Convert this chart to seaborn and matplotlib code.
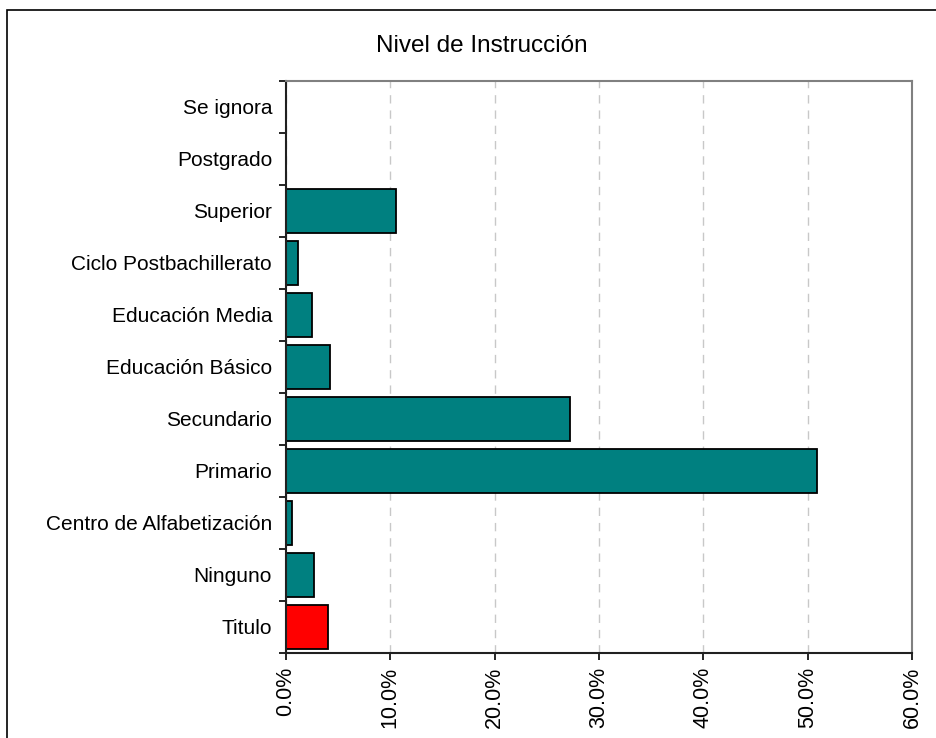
import numpy as np
import matplotlib
matplotlib.use("Agg")
import matplotlib.pyplot as plt
from matplotlib.patches import Rectangle
from matplotlib.ticker import PercentFormatter
import seaborn as sns

# === Datos ===
categorias = [
    "Se ignora", "Postgrado", "Superior", "Ciclo Postbachillerato",
    "Educación Media", "Educación Básico", "Secundario", "Primario",
    "Centro de Alfabetización", "Ninguno", "Titulo",
]
porcentajes = [0.0, 0.0, 10.57, 1.12, 2.46, 4.22, 27.2, 50.86, 0.6, 2.68, 4.06]
colores = ["#008080"] * 10 + ["#FF0000"]
ticks_x = [0, 10, 20, 30, 40, 50, 60]

sns.set_theme(style="white")
plt.rcParams["font.family"] = ["Liberation Sans", "DejaVu Sans"]
plt.rcParams["text.color"] = "black"

fig = plt.figure(figsize=(9.37, 7.38), dpi=100)
ax = fig.add_axes([286 / 937, 1 - 653 / 738, (912 - 286) / 937, (653 - 81) / 738])

sns.barplot(
    x=porcentajes, y=categorias, order=categorias, hue=categorias,
    palette=dict(zip(categorias, colores)), legend=False, orient="h",
    width=0.86, edgecolor="black", linewidth=1.3, saturation=1, ax=ax,
)

ax.set_xlim(0, 60)
ax.set_ylim(len(categorias) - 0.5, -0.5)
ax.set_xticks(ticks_x)
ax.xaxis.set_major_formatter(PercentFormatter(decimals=1))
ax.set_xlabel("")
ax.set_ylabel("")

# rejilla vertical discontinua
ax.xaxis.grid(True, linestyle=(0, (6, 5)), color="#c8c8c8", linewidth=1)
ax.set_axisbelow(True)

# marcas del eje y entre categorias
ax.set_yticks(np.arange(len(categorias) + 1) - 0.5, minor=True)
ax.tick_params(axis="y", which="major", length=0, pad=10, labelsize=15, labelcolor="black")
ax.tick_params(axis="y", which="minor", left=True, length=5, width=1.2, color="black", direction="out")
ax.tick_params(axis="x", which="major", bottom=True, length=5, width=1.2, color="black",
               direction="out", pad=5, labelsize=15.5, labelrotation=90, labelcolor="black")

for lado in ["left", "bottom"]:
    ax.spines[lado].set_color("#202020")
    ax.spines[lado].set_linewidth(1.5)
for lado in ["top", "right"]:
    ax.spines[lado].set_color("#808080")
    ax.spines[lado].set_linewidth(1.5)

fig.text(482 / 937, 1 - 46 / 738, "Nivel de Instrucción", ha="center", va="center",
         fontsize=17.5, color="black")

# marco exterior del grafico
fig.patches.append(Rectangle((7 / 937, -0.1), 1.2, 1.1 - 10 / 738, transform=fig.transFigure,
                             fill=False, edgecolor="black", linewidth=1.2))

fig.savefig("out.png", dpi=100)
